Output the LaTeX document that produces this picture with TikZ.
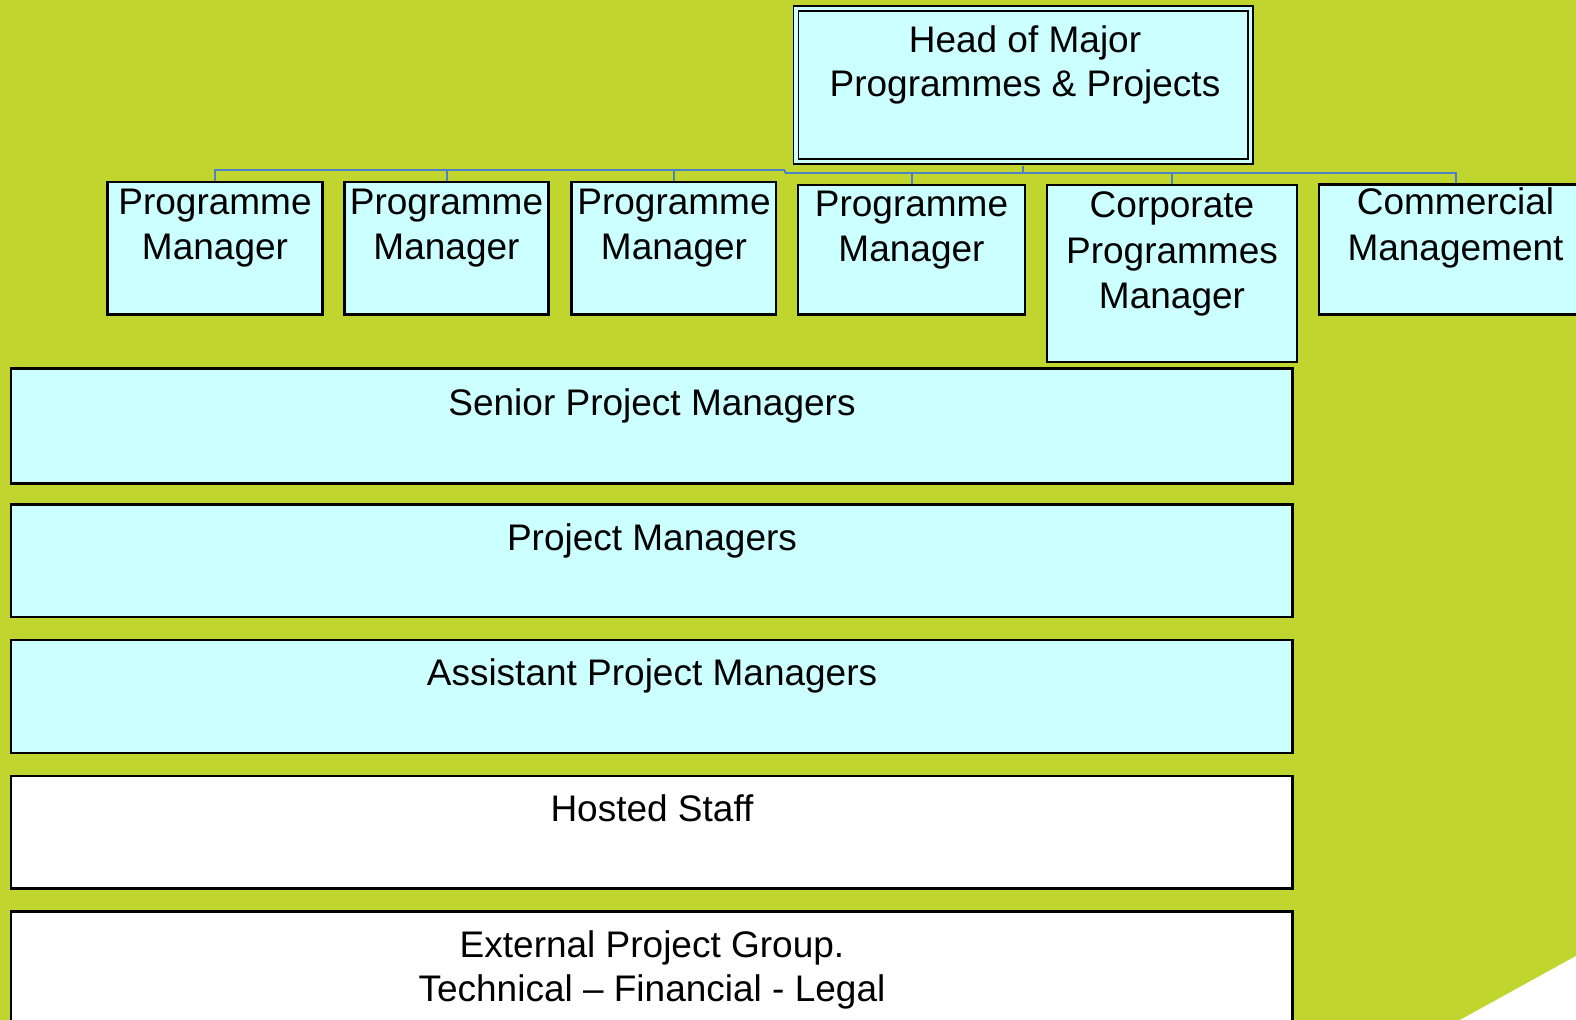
\documentclass[tikz,border=0pt]{standalone}
\usepackage{fontspec}
\setmainfont{Liberation Sans}
\usetikzlibrary{fit}
\definecolor{bggreen}{RGB}{192,214,47}
\definecolor{boxcyan}{RGB}{204,255,255}
\definecolor{connblue}{RGB}{79,129,199}
\begin{document}
\begin{tikzpicture}[x=0.5pt,y=-0.5pt,
  box/.style={draw=black, line width=1.1pt, fill=boxcyan, inner sep=0pt},
  wbox/.style={box, fill=white},
  txt/.style={anchor=north, inner sep=0pt, align=center, font=\fontsize{18.5pt}{22.75pt}\selectfont},
  conn/.style={draw=connblue, line width=1pt}]
\useasboundingbox (0,0) rectangle (1576,1020);
\clip (0,0) rectangle (1576,1020);
\fill[bggreen] (0,0) rectangle (1576,1020);
\fill[white] (1460,1020) -- (1576,956) -- (1576,1020) -- cycle;

% boxes
\node[box, line width=0.9pt, double=boxcyan, double distance=1.6pt, fit={(795.9,8.9) (1250.1,161.6)}] (head) {};
\node[box, fit={(107.5,182) (322.5,314.5)}] (pm1) {};
\node[box, fit={(344.5,182) (548.5,314.5)}] (pm2) {};
\node[box, fit={(571.5,182) (776,314.5)}] (pm3) {};
\node[box, fit={(798,185) (1025,314.5)}] (pm4) {};
\node[box, fit={(1047,185) (1297,362)}] (cpm) {};
\node[box, fit={(1319,184.5) (1592,314.5)}] (cm) {};
\node[box, fit={(11,368.5) (1292.5,483.5)}] (spm) {};
\node[box, fit={(11,504.5) (1292.5,617)}] (prm) {};
\node[box, fit={(11,640) (1292.5,753)}] (apm) {};
\node[wbox, fit={(11,776) (1292.5,888.5)}] (hst) {};
\node[wbox, fit={(11,911.5) (1292.5,1040)}] (ext) {};

% connectors
\coordinate (jL) at (785,170);
\coordinate (jR) at (785,173.3);
\draw[conn, shorten <=1.7pt] (head.south) |- (jR);
\draw[conn] (jR) -- (jL);
\draw[conn] (jL) -| (pm1.north);
\draw[conn] (jL) -| (pm2.north);
\draw[conn] (jL) -| (pm3.north);
\draw[conn] (jR) -| (pm4.north);
\draw[conn] (jR) -| (cpm.north);
\draw[conn] (jR) -| (cm.north);

% texts
\node[txt, font=\fontsize{18.5pt}{21.75pt}\selectfont] (headt) at (1025,25.3) {Head of Major\\Programmes \& Projects};
\node[txt] (pm1t) at (215,188.5) {Programme\\Manager};
\node[txt] (pm2t) at (446.5,188.5) {Programme\\Manager};
\node[txt] (pm3t) at (674,188.5) {Programme\\Manager};
\node[txt] (pm4t) at (911.5,190.5) {Programme\\Manager};
\node[txt, font=\fontsize{18.5pt}{22.75pt}\selectfont] (cpmt) at (1172,191.5) {Corporate\\Programmes\\Manager};
\node[txt] (cmt) at (1455.5,187.5) {Commercial\\Management};
\node[txt] (spmt) at (652,388) {Senior Project Managers};
\node[txt] (prmt) at (652,523.5) {Project Managers};
\node[txt] (apmt) at (652,658) {Assistant Project Managers};
\node[txt] (hstt) at (652,794) {Hosted Staff};
\node[txt, font=\fontsize{18.5pt}{22.35pt}\selectfont] (extt) at (652,930) {External Project Group.\\Technical – Financial - Legal};
\end{tikzpicture}
\end{document}
